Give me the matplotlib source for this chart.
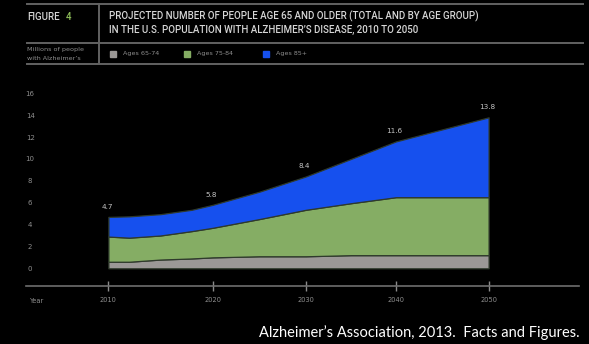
import numpy as np
import matplotlib
matplotlib.use('Agg')
import matplotlib.pyplot as plt
from matplotlib.lines import Line2D
from matplotlib.patches import Rectangle

# Projected number of people with Alzheimer's (millions), by age group
years = [2010, 2012, 2015, 2018, 2020, 2025, 2030, 2035, 2040, 2045, 2050]
ages_65_74 = [0.6, 0.6, 0.8, 0.9, 1.0, 1.1, 1.1, 1.2, 1.2, 1.2, 1.2]
ages_75_84 = [2.3, 2.2, 2.2, 2.5, 2.7, 3.4, 4.25, 4.75, 5.3, 5.3, 5.3]
ages_85_up = [1.8, 1.95, 1.95, 1.95, 2.1, 2.5, 3.05, 4.05, 5.1, 6.2, 7.3]

label_years = [2010, 2020, 2030, 2040, 2050]
label_totals = [4.7, 5.8, 8.4, 11.6, 13.8]

group_names = ['Ages 65-74', 'Ages 75-84', 'Ages 85+']
group_colors = ['#9b9896', '#85ad64', '#1650ee']

W, H = 589, 344
BG = 'black'
LINE = '#626262'
SMALL = '#8e8e8e'


def fx(px):
    return px / W


def fy(py):
    return 1 - py / H


# decades on the year axis are not evenly spaced in the printed figure
knot_years = np.array([2010, 2020, 2030, 2040, 2050], float)
knot_pos = np.array([108.4, 212.6, 306.0, 396.0, 488.6])
left_slope = (knot_pos[1] - knot_pos[0]) / 10
right_slope = (knot_pos[-1] - knot_pos[-2]) / 10


def year_to_pos(x):
    x = np.asarray(x, float)
    p = np.interp(x, knot_years, knot_pos)
    p = np.where(x < knot_years[0], knot_pos[0] + (x - knot_years[0]) * left_slope, p)
    p = np.where(x > knot_years[-1], knot_pos[-1] + (x - knot_years[-1]) * right_slope, p)
    return p


def pos_to_year(p):
    p = np.asarray(p, float)
    x = np.interp(p, knot_pos, knot_years)
    x = np.where(p < knot_pos[0], knot_years[0] + (p - knot_pos[0]) / left_slope, x)
    x = np.where(p > knot_pos[-1], knot_years[-1] + (p - knot_pos[-1]) / right_slope, x)
    return x


fig = plt.figure(figsize=(W / 100, H / 100), dpi=100, facecolor=BG)

# plot area: axis line at y=285.6px, value 0 at 268.3px, 10.94 px per million
px_per_unit = 10.94
y_bottom = -(285.6 - 268.3) / px_per_unit
y_top = 16.5
ax_top_px = 268.3 - y_top * px_per_unit
ax = fig.add_axes([fx(26), fy(285.6), fx(579) - fx(26), (285.6 - ax_top_px) / H])
ax.set_facecolor(BG)
ax.set_xscale('function', functions=(year_to_pos, pos_to_year))

ax.stackplot(years, ages_65_74, ages_75_84, ages_85_up, colors=group_colors,
             edgecolor='#2f3a2c', linewidth=0.9)

for yr, total in zip(label_years, label_totals):
    ax.annotate(f'{total}', (yr, total), xytext=(-1, 5), textcoords='offset points',
                ha='center', va='bottom', fontsize=5.2, color='#c4c4c4')

ax.set_xlim(float(pos_to_year(26)), float(pos_to_year(579)))
ax.set_ylim(y_bottom, y_top)

for side in ['top', 'right', 'left']:
    ax.spines[side].set_visible(False)
ax.spines['bottom'].set_color('#6e6e6e')
ax.spines['bottom'].set_linewidth(1.2)

ax.set_xticks(label_years)
ax.set_xticklabels([str(y) for y in label_years])
ax.xaxis.set_minor_locator(plt.NullLocator())
ax.tick_params(axis='x', direction='inout', length=7, width=1.0, color='#8a8a8a',
               labelsize=4.8, labelcolor=SMALL, pad=4.5)

ax.set_yticks(range(0, 17, 2))
ax.tick_params(axis='y', length=0, labelsize=5, labelcolor=SMALL, pad=-3)
for lbl in ax.get_yticklabels():
    lbl.set_horizontalalignment('center')

fig.text(fx(30), fy(300.6), 'Year', fontsize=4.8, color=SMALL, ha='left', va='center')

# header rules
for py in [4, 42.7, 64.3]:
    fig.add_artist(Line2D([fx(27), fx(583)], [fy(py), fy(py)], color=LINE, lw=1.4))
fig.add_artist(Line2D([fx(99), fx(99)], [fy(4), fy(64.3)], color=LINE, lw=1.4))

head_font = 'Roboto'
head_size = 7.0
fig.text(fx(27), fy(16.7), 'FIGURE', fontsize=head_size, color='#d6d6d6', family=head_font,
         weight='medium', ha='left', va='center')
fig.text(fx(66), fy(16.7), '4', fontsize=head_size, color='#8fbf5a', family=head_font,
         weight='medium', ha='left', va='center')
fig.text(fx(109), fy(16.7),
         'PROJECTED NUMBER OF PEOPLE AGE 65 AND OLDER (TOTAL AND BY AGE GROUP)',
         fontsize=head_size, color='#d6d6d6', family=head_font, weight='medium',
         ha='left', va='center')
fig.text(fx(109), fy(29.5),
         'IN THE U.S. POPULATION WITH ALZHEIMER\u2019S DISEASE, 2010 TO 2050',
         fontsize=head_size, color='#d6d6d6', family=head_font, weight='medium',
         ha='left', va='center')

fig.text(fx(27), fy(49.3), 'Millions of people', fontsize=4.6, color=SMALL,
         ha='left', va='center')
fig.text(fx(27), fy(58.5), 'with Alzheimer\u2019s', fontsize=4.6, color=SMALL,
         ha='left', va='center')

# legend
legend_x = [110, 184, 263]
for x0, name, col in zip(legend_x, group_names, group_colors):
    fig.add_artist(Rectangle((fx(x0), fy(57)), fx(6), 6 / H, color=col,
                             transform=fig.transFigure))
    fig.text(fx(x0 + 13), fy(54), name, fontsize=4.6, color=SMALL,
             ha='left', va='center')

fig.text(fx(580), fy(333), 'Alzheimer\u2019s Association, 2013.  Facts and Figures.',
         fontsize=10.5, color='white', family='Lato', ha='right', va='center')

fig.savefig('out.png', dpi=100, facecolor=BG)
